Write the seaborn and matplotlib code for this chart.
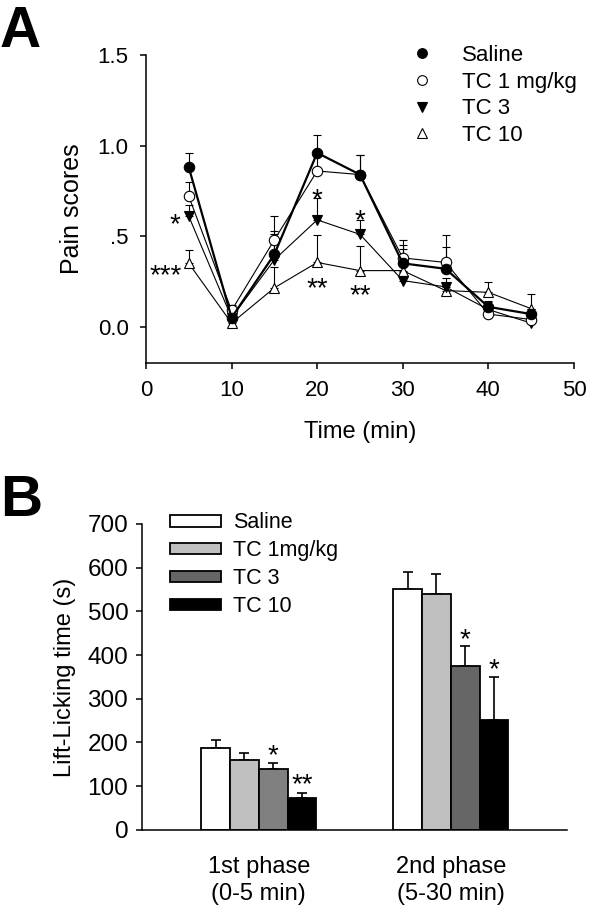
import numpy as np
import pandas as pd
import matplotlib
matplotlib.use("Agg")
import matplotlib.pyplot as plt
from matplotlib.lines import Line2D
from matplotlib.patches import Patch
import seaborn as sns

# ---------------- data ----------------
time_min = [5, 10, 15, 20, 25, 30, 35, 40, 45]
groups_a = ["Saline", "TC 1 mg/kg", "TC 3", "TC 10"]
saline_mean = [0.88, 0.05, 0.40, 0.96, 0.84, 0.35, 0.32, 0.11, 0.07]
saline_err = [0.08, 0.03, 0.13, 0.10, 0.11, 0.10, 0.12, 0.03, 0.03]
tc1_mean = [0.72, 0.09, 0.48, 0.86, 0.84, 0.38, 0.355, 0.07, 0.04]
tc1_err = [0.08, 0.03, 0.13, 0.08, 0.11, 0.10, 0.15, 0.03, 0.03]
tc3_mean = [0.61, 0.05, 0.37, 0.59, 0.51, 0.255, 0.22, 0.095, 0.02]
tc3_err = [0.06, 0.02, 0.14, 0.12, 0.08, 0.05, 0.05, 0.04, 0.02]
tc10_mean = [0.35, 0.02, 0.215, 0.355, 0.31, 0.31, 0.20, 0.19, 0.10]
tc10_err = [0.075, 0.02, 0.115, 0.15, 0.135, 0.12, 0.03, 0.055, 0.08]

phases = ["1st phase\n(0-5 min)", "2nd phase\n(5-30 min)"]
groups_b = ["Saline", "TC 1mg/kg", "TC 3", "TC 10"]
lick_saline = [187, 551]
lick_tc1 = [160, 540]
lick_tc3 = [139, 376]
lick_tc10 = [73, 251]
lick_saline_err = [18, 40]
lick_tc1_err = [17, 46]
lick_tc3_err = [14, 44]
lick_tc10_err = [11, 99]

# ---------------- style ----------------
sns.set_theme(style="ticks")
plt.rcParams["font.family"] = ["Liberation Sans", "DejaVu Sans"]
for k in ["text.color", "axes.labelcolor", "xtick.color", "ytick.color", "axes.edgecolor"]:
    plt.rcParams[k] = "black"
plt.rcParams["axes.linewidth"] = 1.1

fig = plt.figure(figsize=(6, 9.05), dpi=100)
axA = fig.add_axes([0.2433, 0.5989, 0.7133, 0.3403])
axB = fig.add_axes([0.237, 0.083, 0.708, 0.338])

# ---------------- panel A ----------------
means = [saline_mean, tc1_mean, tc3_mean, tc10_mean]
errs = [saline_err, tc1_err, tc3_err, tc10_err]
markers = ["o", "o", "v", "^"]
faces = ["black", "white", "black", "white"]
lws = [1.6, 0.8, 0.8, 0.8]
zord = [6, 5, 4, 3]

dfA = pd.DataFrame({
    "time": time_min * 4,
    "score": sum(means, []),
    "err": sum(errs, []),
    "group": np.repeat(groups_a, len(time_min)),
})

for i, g in enumerate(groups_a):
    sub = dfA[dfA["group"] == g]
    axA.errorbar(sub["time"], sub["score"], yerr=[np.zeros(len(sub)), sub["err"]],
                 fmt="none", ecolor="black", elinewidth=0.8, capsize=3.2,
                 capthick=0.8, zorder=2)
for i, g in enumerate(groups_a):
    sub = dfA[dfA["group"] == g]
    sns.lineplot(data=sub, x="time", y="score", ax=axA, color="black",
                 linewidth=lws[i], marker=markers[i], markersize=7.5,
                 markerfacecolor=faces[i], markeredgecolor="black",
                 markeredgewidth=0.8, zorder=zord[i], legend=False)

axA.set_xlim(0, 50)
axA.set_ylim(-0.2, 1.5)
axA.set_xticks([0, 10, 20, 30, 40, 50])
axA.set_yticks([0, 0.5, 1.0, 1.5])
axA.set_yticklabels(["0.0", ".5", "1.0", "1.5"])
axA.set_xlabel("Time (min)", fontsize=17, labelpad=14)
axA.set_ylabel("Pain scores", fontsize=18, labelpad=10)
axA.tick_params(labelsize=16, length=4, width=1.1, direction="out", pad=8.5)
sns.despine(ax=axA)

star_kw = dict(ha="center", va="center", fontsize=20, color="black")
axA.text(3.4, 0.56, "*", **star_kw)
axA.text(2.3, 0.28, "***", **star_kw)
axA.text(20, 0.70, "*", **star_kw)
axA.text(20, 0.21, "**", **star_kw)
axA.text(25, 0.58, "*", **star_kw)
axA.text(25, 0.17, "**", **star_kw)

handlesA = [Line2D([], [], linestyle="none", marker=markers[i], markersize=7,
                   markerfacecolor=faces[i], markeredgecolor="black",
                   markeredgewidth=0.8) for i in range(4)]
axA.legend(handlesA, groups_a, loc="upper left", bbox_to_anchor=(0.599, 1.062),
           frameon=False, fontsize=16, handlelength=1.0, handletextpad=1.28,
           labelspacing=0.26, borderaxespad=0)

fig.text(0.0, 0.995, "A", fontsize=41, fontweight="bold", va="top", ha="left")

# ---------------- panel B ----------------
vals = [lick_saline, lick_tc1, lick_tc3, lick_tc10]
verrs = [lick_saline_err, lick_tc1_err, lick_tc3_err, lick_tc10_err]
dfB = pd.DataFrame({
    "phase": phases * 4,
    "time": sum(vals, []),
    "err": sum(verrs, []),
    "group": np.repeat(groups_b, len(phases)),
})
palette = ["#ffffff", "#c0c0c0", "#666666", "#000000"]
sns.barplot(data=dfB, x="phase", y="time", hue="group", hue_order=groups_b,
            palette=palette, width=0.6, edgecolor="black", linewidth=1.3,
            errorbar=None, ax=axB, legend=False, saturation=1)

bar_conts = list(axB.containers)
# first-phase TC 3 bar is lighter grey in reference
bar_conts[2][0].set_facecolor("#808080")

for ci, cont in enumerate(bar_conts):
    for bi, bar in enumerate(cont):
        xc = bar.get_x() + bar.get_width() / 2
        axB.errorbar([xc], [bar.get_height()], yerr=[[0], [verrs[ci][bi]]],
                     fmt="none", ecolor="black", elinewidth=1.2, capsize=3.5,
                     capthick=1.2, zorder=1)
        bar.set_zorder(2)

axB.set_xlim(-0.608, 1.606)
axB.set_ylim(0, 700)
axB.set_yticks(range(0, 701, 100))
axB.set_xlabel("")
axB.set_ylabel("Lift-Licking time (s)", fontsize=17, labelpad=8)
axB.tick_params(axis="y", labelsize=17.5, length=4, width=1.1, pad=6)
axB.tick_params(axis="x", labelsize=17, length=0, pad=19)
for lab in axB.get_xticklabels():
    lab.set_linespacing(1.27)
sns.despine(ax=axB)

def bar_top(ci, bi):
    b = bar_conts[ci][bi]
    return b.get_x() + b.get_width() / 2

axB.text(bar_top(2, 0), 168, "*", **star_kw)
axB.text(bar_top(3, 0), 103, "**", **star_kw)
axB.text(bar_top(2, 1), 434, "*", **star_kw)
axB.text(bar_top(3, 1), 366, "*", **star_kw)

handlesB = [Patch(facecolor=c, edgecolor="black", linewidth=1.3) for c in palette]
axB.legend(handlesB, groups_b, loc="upper left", bbox_to_anchor=(0.046, 1.066),
           frameon=False, fontsize=15.5, handlelength=2.35, handleheight=0.45,
           handletextpad=0.56, labelspacing=0.32, borderaxespad=0)

fig.text(0.0, 0.476, "B", fontsize=42, fontweight="bold", va="top", ha="left")

fig.savefig("out.png", dpi=100, facecolor="white")
